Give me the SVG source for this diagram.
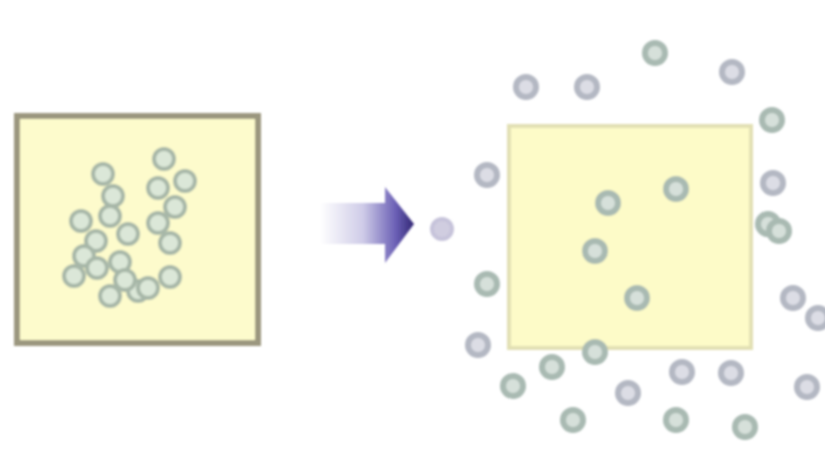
<svg xmlns="http://www.w3.org/2000/svg" width="825" height="455" viewBox="0 0 825 455">
<defs>
<linearGradient id="arrowGrad" x1="320" y1="0" x2="415" y2="0" gradientUnits="userSpaceOnUse">
<stop offset="0" stop-color="#ffffff"/>
<stop offset="0.45" stop-color="#cfcce8"/>
<stop offset="0.8" stop-color="#6a5fb5"/>
<stop offset="1" stop-color="#2e2470"/>
</linearGradient>
<filter id="soft" x="-10%" y="-10%" width="120%" height="120%"><feGaussianBlur stdDeviation="1"/></filter>
<style>
.box1{fill:#fdfbcc;stroke:#9b977f;stroke-width:6}
.box2{fill:#fdfbc8;stroke:#e2e0b4;stroke-width:4}
.pin{fill:#dbe7d8;stroke:#a7b7a8;stroke-width:4}
.pout{fill:#dcdde5;stroke:#b4b8c3;stroke-width:6}
.pgr{fill:#d6e0da;stroke:#a9bab2;stroke-width:6}
.pl{fill:#d0cde0;stroke:#c6c3da;stroke-width:4}
</style>
</defs>
<rect width="825" height="455" fill="#ffffff"/>
<g id="before" filter="url(#soft)">
<rect class="box1" x="17" y="116" width="241" height="227"/>
<g>
<circle class="pin" cx="103" cy="174" r="10"/>
<circle class="pin" cx="164" cy="159" r="10"/>
<circle class="pin" cx="185" cy="181" r="10"/>
<circle class="pin" cx="113" cy="196" r="10"/>
<circle class="pin" cx="158" cy="188" r="10"/>
<circle class="pin" cx="110" cy="216" r="10"/>
<circle class="pin" cx="175" cy="207" r="10"/>
<circle class="pin" cx="81" cy="221" r="10"/>
<circle class="pin" cx="128" cy="234" r="10"/>
<circle class="pin" cx="158" cy="223" r="10"/>
<circle class="pin" cx="170" cy="243" r="10"/>
<circle class="pin" cx="96" cy="241" r="10"/>
<circle class="pin" cx="84" cy="256" r="10"/>
<circle class="pin" cx="120" cy="262" r="10"/>
<circle class="pin" cx="97" cy="268" r="10"/>
<circle class="pin" cx="74" cy="276" r="10"/>
<circle class="pin" cx="110" cy="296" r="10"/>
<circle class="pin" cx="138" cy="291" r="10"/>
<circle class="pin" cx="148" cy="288" r="10"/>
<circle class="pin" cx="170" cy="277" r="10"/>
<circle class="pin" cx="125" cy="280" r="10"/>
</g>
</g>
<g id="arrow" filter="url(#soft)">
<polygon points="320,203 385,203 385,187 414,224 385,263 385,244 320,244" fill="url(#arrowGrad)"/>
<circle class="pl" cx="442" cy="229" r="10"/>
</g>
<g id="after" filter="url(#soft)">
<rect class="box2" x="509" y="126" width="242" height="222"/>
<g>
<circle class="pgr" cx="608" cy="203" r="10"/>
<circle class="pgr" cx="676" cy="189" r="10"/>
<circle class="pgr" cx="595" cy="251" r="10"/>
<circle class="pgr" cx="637" cy="298" r="10"/>
</g>
<g>
<circle class="pgr" cx="655" cy="53" r="10"/>
<circle class="pout" cx="526" cy="87" r="10"/>
<circle class="pout" cx="587" cy="87" r="10"/>
<circle class="pout" cx="732" cy="72" r="10"/>
<circle class="pgr" cx="772" cy="120" r="10"/>
<circle class="pout" cx="487" cy="175" r="10"/>
<circle class="pout" cx="773" cy="183" r="10"/>
<circle class="pgr" cx="768" cy="224" r="10"/>
<circle class="pgr" cx="779" cy="231" r="10"/>
<circle class="pgr" cx="487" cy="284" r="10"/>
<circle class="pout" cx="793" cy="298" r="10"/>
<circle class="pout" cx="818" cy="318" r="10"/>
<circle class="pout" cx="478" cy="345" r="10"/>
<circle class="pgr" cx="595" cy="352" r="10"/>
<circle class="pgr" cx="552" cy="367" r="10"/>
<circle class="pgr" cx="513" cy="386" r="10"/>
<circle class="pout" cx="628" cy="393" r="10"/>
<circle class="pout" cx="682" cy="372" r="10"/>
<circle class="pout" cx="731" cy="373" r="10"/>
<circle class="pout" cx="807" cy="387" r="10"/>
<circle class="pgr" cx="573" cy="420" r="10"/>
<circle class="pgr" cx="676" cy="420" r="10"/>
<circle class="pgr" cx="745" cy="427" r="10"/>
</g>
</g>
</svg>
